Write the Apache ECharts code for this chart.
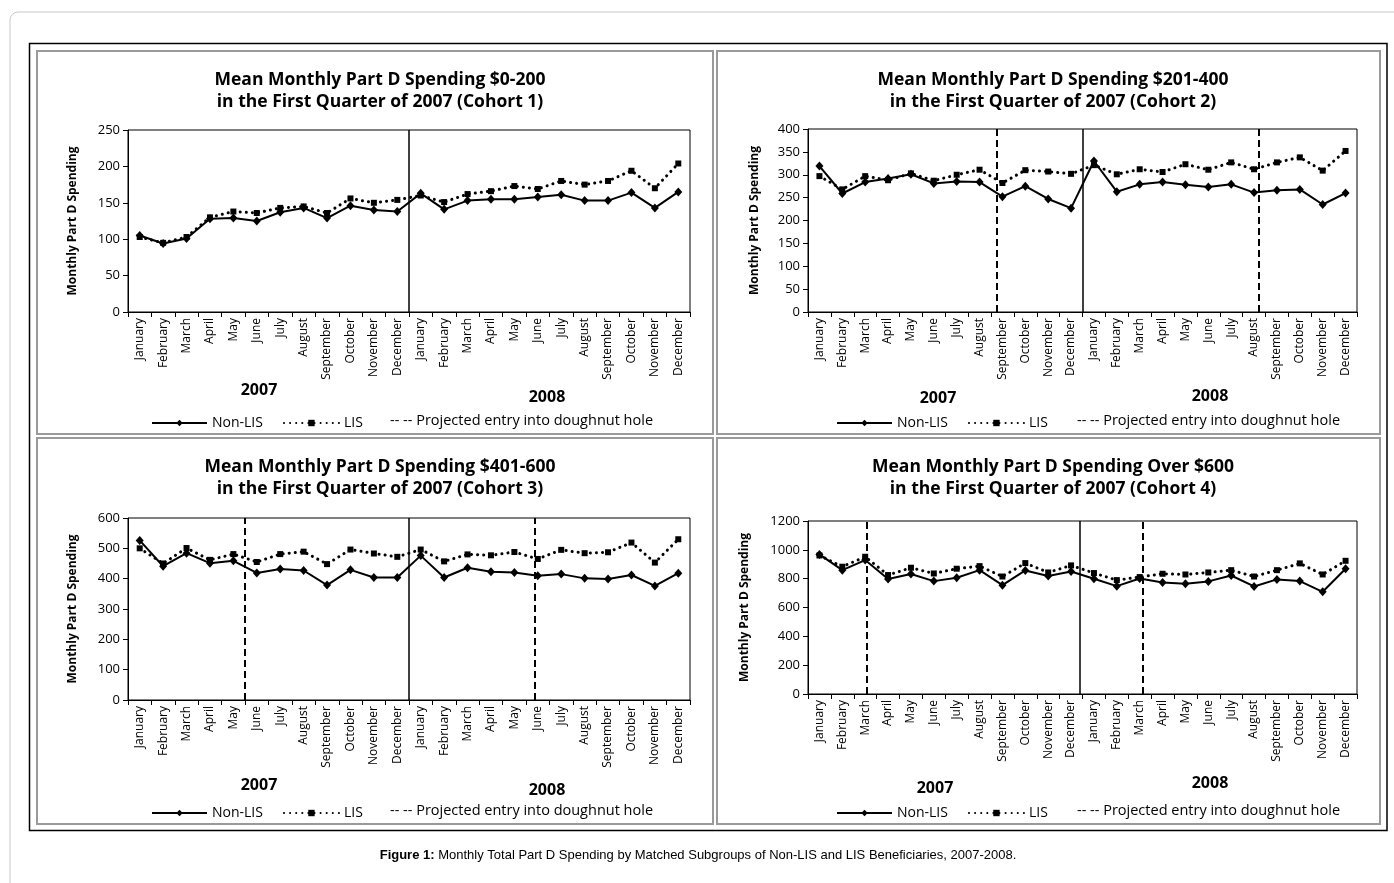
<!DOCTYPE html>
<html>
<head>
<meta charset="utf-8">
<script src="https://cdn.jsdelivr.net/npm/echarts@6/dist/echarts.min.js"></script>
<style>
html,body{margin:0;padding:0;background:#fff;}
#chart{width:1394px;height:883px;}
</style>
</head>
<body>
<div id="chart"></div>
<script>
// ---------- DATA ----------
const monthNames = ['January','February','March','April','May','June','July','August','September','October','November','December'];
const categories = monthNames.concat(monthNames); // 2007 then 2008
const yearLabels = ['2007', '2008'];

const titles = [
  'Mean Monthly Part D Spending $0-200\nin the First Quarter of 2007 (Cohort 1)',
  'Mean Monthly Part D Spending $201-400\nin the First Quarter of 2007 (Cohort 2)',
  'Mean Monthly Part D Spending $401-600\nin the First Quarter of 2007 (Cohort 3)',
  'Mean Monthly Part D Spending Over $600\nin the First Quarter of 2007 (Cohort 4)'
];

const nonLis1 = [105,94,101,128,129,125,137,143,129,146,140,138, 163,141,153,155,155,158,161,153,153,164,143,165];
const lis1    = [103,95,103,130,138,136,143,145,136,156,150,154, 160,151,162,166,173,169,180,175,180,194,170,204];

const nonLis2 = [319,259,284,292,301,281,285,284,252,275,247,227, 330,263,279,284,278,273,279,261,266,268,235,260];
const lis2    = [297,268,297,288,303,287,300,311,282,310,307,302, 321,301,312,306,323,311,327,312,327,338,309,352];

const nonLis3 = [526,441,484,451,459,419,432,427,379,429,404,404, 476,404,436,423,420,410,415,401,399,412,376,418];
const lis3    = [500,450,501,462,481,455,481,489,448,496,483,472, 496,457,480,477,488,465,495,484,487,519,453,530];

const nonLis4 = [968,859,929,797,832,783,806,859,755,857,818,850, 799,748,801,774,764,781,822,746,795,783,709,869];
const lis4    = [961,883,952,825,876,836,869,887,815,908,843,892, 839,790,811,834,829,843,859,815,859,906,829,924];

// vertical reference lines (position on month scale, 0 = start of Jan 2007, 24 = end of Dec 2008)
const yearBreak   = [12, 12, 12, 11.9];
const projected   = [[], [8.27, 19.72], [5.0, 17.35], [2.57, 14.62]];

const yMax      = [250, 400, 600, 1200];
const yInterval = [50, 50, 100, 200];

const legendNames = ['Non-LIS', 'LIS'];
const projectedText = '-- -- Projected entry into doughnut hole';
const yAxisTitle = 'Monthly Part D Spending';
const caption = ['Figure 1:', ' Monthly Total Part D Spending by Matched Subgroups of Non-LIS and LIS Beneficiaries, 2007-2008.'];

// ---------- LAYOUT ----------
const nonLis = [nonLis1, nonLis2, nonLis3, nonLis4];
const lis = [lis1, lis2, lis3, lis4];
const grids = [
  {left:128, top:130, width:562, height:182},
  {left:808, top:129, width:549, height:183},
  {left:128, top:518, width:562, height:182},
  {left:808, top:521, width:549, height:173}
];
const panelCenters = [375, 1048, 375, 1048];
const titleTops = [64, 64, 451, 451];
const nameGaps = [49, 47, 49, 57];
const legendPos = [[146,411],[831,411],[146,801],[831,801]];
const projTextPos = [[390,421],[1077,421],[390,811],[1077,811]];
const yearPos = [
  [[259,390],[547,397]],
  [[938,398],[1210,396]],
  [[259,785],[547,790]],
  [[935,788],[1210,783]]
];
const FONT = '"Open Sans", "DejaVu Sans", sans-serif';

const option = {
  backgroundColor: '#fff',
  animation: false,
  textStyle: {fontFamily: FONT, color: '#000'},
  title: [], grid: [], xAxis: [], yAxis: [], series: [], legend: [], graphic: []
};

for (let k = 0; k < 4; k++) {
  option.title.push({
    text: titles[k], left: panelCenters[k], top: titleTops[k], textAlign: 'center',
    textStyle: {fontFamily: FONT, fontSize: 17.5, fontWeight: 'bold', color: '#000', lineHeight: 22}
  });
  option.grid.push(Object.assign({show: true, borderColor: '#000', borderWidth: 1, backgroundColor: 'transparent'}, grids[k]));
  option.xAxis.push({
    type: 'category', gridIndex: k, data: categories, boundaryGap: true,
    axisLine: {lineStyle: {color: '#000', width: 1}},
    axisTick: {show: true, length: 5, lineStyle: {color: '#000'}},
    axisLabel: {interval: 0, rotate: 90, fontSize: 12, color: '#000', fontFamily: FONT, margin: 6},
    splitLine: {show: false}
  });
  option.xAxis.push({
    type: 'value', gridIndex: k, min: 0, max: 24, show: false
  });
  option.yAxis.push({
    type: 'value', gridIndex: k, min: 0, max: yMax[k], interval: yInterval[k],
    name: yAxisTitle, nameLocation: 'middle', nameRotate: 90, nameGap: nameGaps[k],
    nameTextStyle: {fontSize: 12, fontWeight: 'bold', color: '#000', fontFamily: FONT},
    axisLine: {show: true, lineStyle: {color: '#000'}},
    axisTick: {show: true, length: 5, lineStyle: {color: '#000'}},
    axisLabel: {fontSize: 13, color: '#000', fontFamily: FONT, margin: 8, formatter: v => String(v)},
    splitLine: {show: false}
  });
  option.series.push({
    name: legendNames[0], type: 'line', xAxisIndex: 2*k, yAxisIndex: k, data: nonLis[k],
    symbol: 'diamond', symbolSize: [8, 9], showSymbol: true,
    lineStyle: {color: '#000', width: 2}, itemStyle: {color: '#000'}, z: 4
  });
  option.series.push({
    name: legendNames[1], type: 'line', xAxisIndex: 2*k, yAxisIndex: k, data: lis[k],
    symbol: 'rect', symbolSize: 6, showSymbol: true,
    lineStyle: {color: '#000', width: 3, type: [0.1, 6], cap: 'round'}, itemStyle: {color: '#000'}, z: 3
  });
  const ml = [{xAxis: yearBreak[k], lineStyle: {type: 'solid', width: 1.5, color: '#000'}}];
  projected[k].forEach(v => ml.push({xAxis: v, lineStyle: {type: [7, 4], width: 2, color: '#000'}}));
  option.series.push({
    name: 'lines' + k, type: 'scatter', xAxisIndex: 2*k + 1, yAxisIndex: k, data: [],
    markLine: {silent: true, symbol: ['none','none'], label: {show: false}, data: ml, animation: false}
  });
  option.legend.push({
    data: legendNames, left: legendPos[k][0], top: legendPos[k][1], itemWidth: 55, itemHeight: 8, itemGap: 20,
    textStyle: {fontSize: 14, color: '#000', fontFamily: FONT}, selectedMode: false
  });
  option.graphic.push({
    type: 'text', x: projTextPos[k][0], y: projTextPos[k][1],
    style: {text: projectedText, font: '14.5px ' + FONT, fill: '#000', verticalAlign: 'middle'}
  });
  yearPos[k].forEach((p, i) => option.graphic.push({
    type: 'text', x: p[0], y: p[1],
    style: {text: yearLabels[i], font: 'bold 16px ' + FONT, fill: '#000', align: 'center', verticalAlign: 'middle'}
  }));
}

// frames
option.graphic.push(
  {type: 'rect', shape: {x: 10, y: 12, width: 1420, height: 900, r: 8}, style: {fill: 'none', stroke: '#c8c8c8', lineWidth: 1}, z: -10, silent: true},
  {type: 'rect', shape: {x: 29.5, y: 43.5, width: 1357.5, height: 787}, style: {fill: 'none', stroke: '#000', lineWidth: 1.5}, silent: true},
  {type: 'rect', shape: {x: 37, y: 51, width: 676, height: 383}, style: {fill: 'none', stroke: '#9a9a9a', lineWidth: 2}, silent: true},
  {type: 'rect', shape: {x: 717, y: 51, width: 663, height: 383}, style: {fill: 'none', stroke: '#9a9a9a', lineWidth: 2}, silent: true},
  {type: 'rect', shape: {x: 37, y: 438, width: 676, height: 386}, style: {fill: 'none', stroke: '#9a9a9a', lineWidth: 2}, silent: true},
  {type: 'rect', shape: {x: 717, y: 438, width: 663, height: 386}, style: {fill: 'none', stroke: '#9a9a9a', lineWidth: 2}, silent: true},
  {type: 'text', x: 698, y: 855, style: {
    text: '{b|' + caption[0] + '}{n|' + caption[1] + '}', align: 'center', verticalAlign: 'middle',
    rich: {b: {font: 'bold 13px "Liberation Sans", Arial, sans-serif', fill: '#000'}, n: {font: '13px "Liberation Sans", Arial, sans-serif', fill: '#000'}}
  }}
);

const chart = echarts.init(document.getElementById('chart'), null, {renderer: 'canvas'});
chart.setOption(option);
</script>
</body>
</html>
